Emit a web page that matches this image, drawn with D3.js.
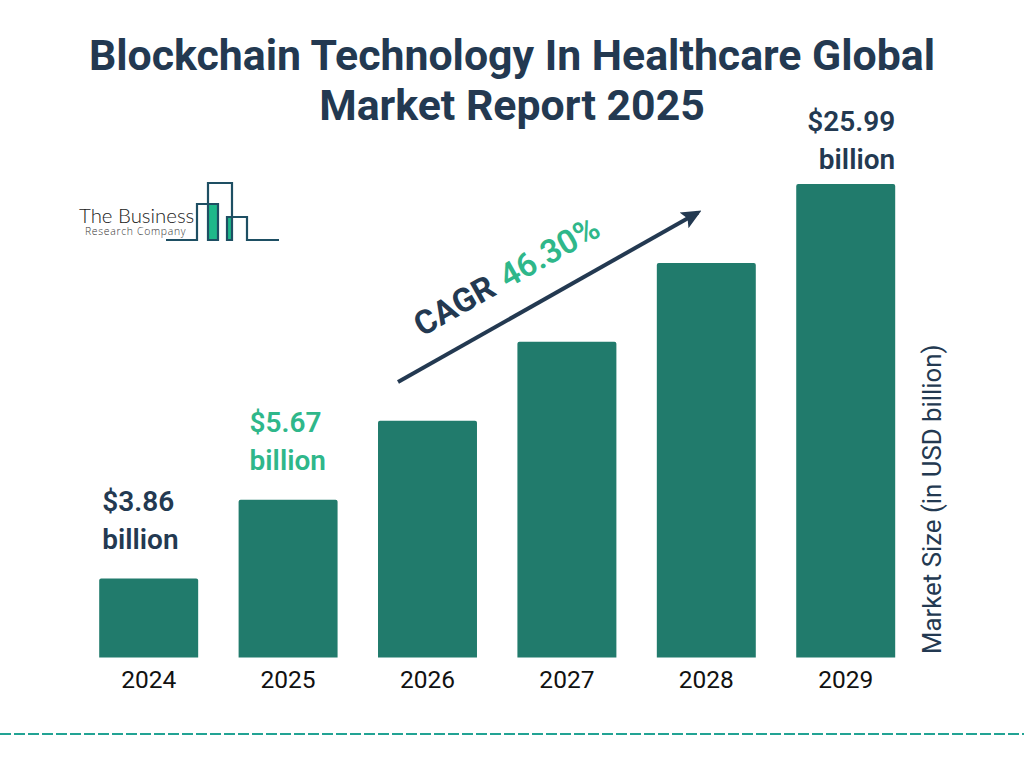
<!DOCTYPE html>
<html>
<head>
<meta charset="utf-8">
<script src="https://cdn.jsdelivr.net/npm/d3@7"></script>
<style>
    html, body { margin: 0; padding: 0; background: #fff; }
    text { font-family: Roboto, sans-serif; }
</style>
</head>
<body>
<div id="container"></div>
<script>
const years = ["2024", "2025", "2026", "2027", "2028", "2029"];
// the bars climb in even steps in the picture, they do not follow the dollar labels
const barLevels = [1, 2, 3, 4, 5, 6];
const valueLabels = [
    { year: "2024", lines: ["$3.86", "billion"], highlight: false },
    { year: "2025", lines: ["$5.67", "billion"], highlight: true },
    { year: "2029", lines: ["$25.99", "billion"], highlight: false },
];
const titleLines = ["Blockchain Technology In Healthcare Global", "Market Report 2025"];
const cagrLabel = "CAGR";
const cagrValue = "46.30%";
const axisTitle = "Market Size (in USD billion)";

const navy = "#233951", green = "#2fb78a", barColor = "#217b6c", logoLine = "#1e4f63";
const width = 1024, height = 768;

const svg = d3.select("#container").append("svg")
    .attr("width", width)
    .attr("height", height)
    .style("display", "block");

const x = d3.scaleBand().domain(years).range([99.2, 895.2]).paddingInner(0.29);
const y = d3.scaleLinear().domain([0, 6]).range([657.5, 184]);

// Title
svg.append("g").selectAll("text")
    .data(titleLines)
    .join("text")
    .attr("x", 512)
    .attr("y", (d, i) => 70 + i * 50)
    .attr("text-anchor", "middle")
    .attr("font-size", 42.8)
    .attr("font-weight", 700)
    .attr("fill", navy)
    .text(d => d);

// Bars
svg.append("g").selectAll("path")
    .data(years)
    .join("path")
    .attr("fill", barColor)
    .attr("d", (d, i) => {
        const l = x(d), r = l + x.bandwidth(), t = y(barLevels[i]), b = y(0);
        return `M${l},${b}V${t + 2}Q${l},${t} ${l + 2},${t}H${r - 2}Q${r},${t} ${r},${t + 2}V${b}Z`;
    });

// Year axis
const axis = svg.append("g")
    .attr("transform", `translate(0,${y(0)})`)
    .call(d3.axisBottom(x).tickSize(0).tickPadding(13.5));
axis.select(".domain").remove();
axis.selectAll("text")
    .attr("font-size", 24.5)
    .style("font-family", "Roboto, sans-serif")
    .attr("fill", "#111");

// Value labels above bars
const labels = svg.append("g").selectAll("g")
    .data(valueLabels)
    .join("g");
labels.each(function (d) {
    const isLast = d.year === "2029";
    const i = years.indexOf(d.year);
    const top = y(barLevels[i]);
    d3.select(this).selectAll("text")
        .data(d.lines)
        .join("text")
        .attr("x", isLast ? x(d.year) + x.bandwidth() : x(d.year) + (d.highlight ? 11 : 3))
        .attr("y", (t, j) => top - (isLast ? 53 : 68) + j * 38)
        .attr("text-anchor", isLast ? "end" : "start")
        .attr("font-size", 28)
        .attr("font-weight", 600)
        .attr("fill", d.highlight ? green : navy)
        .text(t => t);
});

// CAGR arrow
svg.append("defs").append("marker")
    .attr("id", "arrow-head")
    .attr("viewBox", "0 0 10 10")
    .attr("refX", 8)
    .attr("refY", 5)
    .attr("markerUnits", "userSpaceOnUse")
    .attr("markerWidth", 20)
    .attr("markerHeight", 20)
    .attr("orient", "auto")
    .append("path")
    .attr("d", "M0,0.5L10,5L0,9.5L2,5Z")
    .attr("fill", navy);

svg.append("line")
    .attr("x1", 398)
    .attr("y1", 382)
    .attr("x2", 698)
    .attr("y2", 212.5)
    .attr("stroke", navy)
    .attr("stroke-width", 4)
    .attr("marker-end", "url(#arrow-head)");

const cagr = svg.append("text")
    .attr("transform", "translate(422,337) rotate(-29.5)")
    .attr("font-size", 33)
    .attr("font-weight", 700)
    .attr("fill", navy);
cagr.append("tspan").text(cagrLabel);
cagr.append("tspan")
    .attr("dx", 11)
    .attr("fill", green)
    .attr("font-weight", 600)
    .text(cagrValue);

// Right side axis title
svg.append("text")
    .attr("transform", "translate(941,654) rotate(-90)")
    .attr("font-size", 25.8)
    .attr("fill", navy)
    .text(axisTitle);

// Logo
const logo = svg.append("g");
logo.append("rect").attr("x", 209).attr("y", 204).attr("width", 9).attr("height", 36).attr("fill", "#1fb88a");
logo.append("rect").attr("x", 227).attr("y", 217).attr("width", 5).attr("height", 23).attr("fill", "#1fb88a");
logo.append("path")
    .attr("fill", "none")
    .attr("stroke", logoLine)
    .attr("stroke-width", 2.2)
    .attr("d", "M166,240H197V204H218V240H208V183H232V240H227V217H247V240H279");
logo.append("text")
    .attr("x", 79).attr("y", 222.5)
    .attr("font-size", 20.4)
    .attr("font-weight", 300)
    .style("font-family", "Lato, sans-serif")
    .attr("fill", "#222")
    .text("The Business");
logo.append("text")
    .attr("x", 85).attr("y", 235)
    .attr("font-size", 10.4)
    .attr("font-weight", 300)
    .attr("letter-spacing", 0.7)
    .style("font-family", "'Open Sans', sans-serif")
    .attr("fill", "#333")
    .text("Research Company");

// Dashed rule
svg.append("line")
    .attr("x1", 0)
    .attr("x2", width)
    .attr("y1", 734)
    .attr("y2", 734)
    .attr("stroke", "#22a394")
    .attr("stroke-width", 2)
    .attr("stroke-dasharray", "11 3");
</script>
</body>
</html>
